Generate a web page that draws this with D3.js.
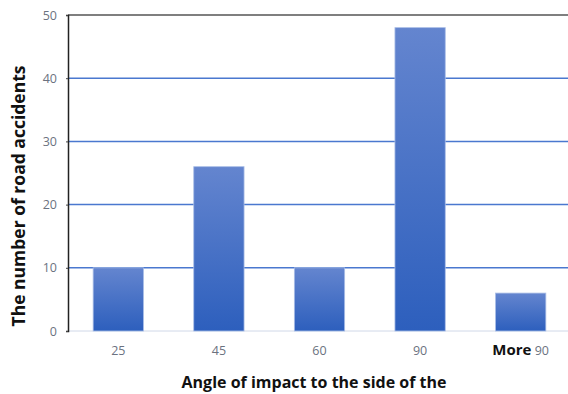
<!DOCTYPE html>
<html>
<head>
<meta charset="utf-8">
<script src="https://cdn.jsdelivr.net/npm/d3@7"></script>
<style>
  html, body { margin: 0; padding: 0; background: #fff; }
  svg { display: block; font-family: "Open Sans", "Liberation Sans", sans-serif; }
</style>
</head>
<body>
<svg id="chart" width="568" height="394"></svg>
<script>
// Road accidents by angle of impact
const categories = ["25", "45", "60", "90", "More"];
const accidents = [10, 26, 10, 48, 6];
const yTicks = [0, 10, 20, 30, 40, 50];

const svg = d3.select("#chart");
const W = 568, H = 394;
const plot = { left: 68, right: 571, top: 15, bottom: 331 };

const x = d3.scaleBand().domain(categories).range([plot.left, plot.right]).paddingInner(0.5).paddingOuter(0.25);
const y = d3.scaleLinear().domain([0, 50]).range([plot.bottom, plot.top]);

// bar gradient: lighter at the top, deeper blue at the base
const defs = svg.append("defs");
const grad = defs.append("linearGradient").attr("id", "barGrad")
  .attr("x1", 0).attr("y1", 0).attr("x2", 0).attr("y2", 1);
grad.append("stop").attr("offset", "0%").attr("stop-color", "#6485cf");
grad.append("stop").attr("offset", "100%").attr("stop-color", "#2d5fbd");

// horizontal gridlines
svg.append("g").selectAll("line")
  .data(yTicks.filter(d => d > 0 && d < 50))
  .join("line")
  .attr("x1", plot.left).attr("x2", W)
  .attr("y1", d => y(d)).attr("y2", d => y(d))
  .attr("stroke", "#4a78cf").attr("stroke-width", 1.5);

// top frame line
svg.append("line")
  .attr("x1", plot.left).attr("x2", W)
  .attr("y1", y(50)).attr("y2", y(50))
  .attr("stroke", "#555").attr("stroke-width", 1.5);

// bottom baseline
svg.append("line")
  .attr("x1", plot.left).attr("x2", W)
  .attr("y1", y(0)).attr("y2", y(0))
  .attr("stroke", "#d0d8e8").attr("stroke-width", 1);

// bars
svg.append("g").selectAll("rect")
  .data(categories.map((c, i) => ({ c, v: accidents[i] })))
  .join("rect")
  .attr("x", d => x(d.c))
  .attr("y", d => y(d.v))
  .attr("width", x.bandwidth())
  .attr("height", d => y(0) - y(d.v))
  .attr("fill", "url(#barGrad)")
  .attr("stroke", "#a9bde6").attr("stroke-width", 0.8);

// y axis
const yAxis = svg.append("g")
  .attr("transform", `translate(${plot.left},0)`)
  .call(d3.axisLeft(y).tickValues(yTicks).tickSize(2).tickPadding(9));
yAxis.select(".domain").attr("stroke", "#222").attr("stroke-width", 1.5);
yAxis.selectAll(".tick line").attr("stroke", "#444");
yAxis.selectAll("text")
  .attr("fill", "#6b7280").style("font-size", "12.5px")
  .style("font-family", "'Open Sans', sans-serif");

// x tick labels
const xLabels = svg.append("g").selectAll("text")
  .data(categories)
  .join("text")
  .attr("x", d => x(d) + x.bandwidth() / 2)
  .attr("y", 355)
  .attr("text-anchor", "middle")
  .style("font-size", "12.5px")
  .attr("fill", "#6b7280");
xLabels.each(function(d) {
  const t = d3.select(this);
  if (d === "More") {
    t.append("tspan").text("More").attr("fill", "#111").style("font-weight", "bold").style("font-size", "15px");
    t.append("tspan").text(" 90");
  } else {
    t.text(d);
  }
});

// axis titles
svg.append("text")
  .attr("x", 314).attr("y", 388)
  .attr("text-anchor", "middle")
  .style("font-size", "16px").style("font-weight", "bold")
  .attr("fill", "#111")
  .text("Angle of impact to the side of the");

svg.append("text")
  .attr("transform", "translate(25,196) rotate(-90)")
  .attr("text-anchor", "middle")
  .style("font-size", "17.5px").style("font-weight", "bold")
  .attr("fill", "#111")
  .text("The number of road accidents");
</script>
</body>
</html>
